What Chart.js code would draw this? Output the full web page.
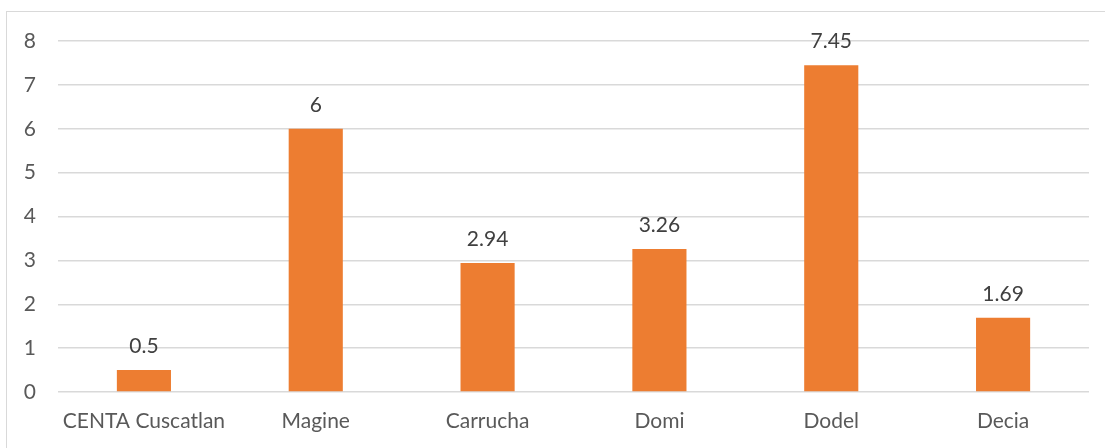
<!DOCTYPE html>
<html>
<head>
<meta charset="utf-8">
<script src="https://cdn.jsdelivr.net/npm/chart.js@4/dist/chart.umd.min.js"></script>
<style>
  html, body { margin: 0; padding: 0; background: #fff; }
  #wrap { position: relative; width: 1105px; height: 448px; }
  #frame { position: absolute; left: 6px; top: 11px; right: 0; bottom: -2px; border-left: 1.5px solid #d9d9d9; border-top: 1.5px solid #d9d9d9; pointer-events: none; }
  canvas { position: absolute; left: 0; top: 0; }
</style>
</head>
<body>
<div id="wrap">
  <canvas id="c" width="1105" height="448"></canvas>
  <div id="frame"></div>
</div>
<script>
const categories = ["CENTA Cuscatlan", "Magine", "Carrucha", "Domi", "Dodel", "Decia"];
const values = [0.5, 6, 2.94, 3.26, 7.45, 1.69];
const valueLabels = ["0.5", "6", "2.94", "3.26", "7.45", "1.69"];
const yTicks = [0, 1, 2, 3, 4, 5, 6, 7, 8];

const FONT = "Lato, 'Open Sans', sans-serif";

const labelPlugin = {
  id: 'valueLabels',
  afterDatasetsDraw(chart) {
    const ctx = chart.ctx;
    const meta = chart.getDatasetMeta(0);
    ctx.save();
    ctx.font = "21px " + FONT;
    ctx.fillStyle = "#404040";
    ctx.textAlign = "center";
    ctx.textBaseline = "alphabetic";
    meta.data.forEach((bar, i) => {
      ctx.fillText(valueLabels[i], bar.x, bar.y - 17);
    });
    ctx.restore();
  }
};

new Chart(document.getElementById('c'), {
  type: 'bar',
  data: {
    labels: categories,
    datasets: [{
      data: values,
      backgroundColor: '#ED7D31',
      borderWidth: 0,
      barPercentage: 0.63,
      categoryPercentage: 0.5
    }]
  },
  options: {
    responsive: false,
    animation: false,
    devicePixelRatio: 1,
    layout: { padding: { left: 0, right: 16, top: 41, bottom: 0 } },
    plugins: { legend: { display: false }, tooltip: { enabled: false } },
    scales: {
      x: {
        grid: { display: false, drawTicks: false },
        border: { display: false },
        ticks: { color: '#595959', font: { family: FONT, size: 21 }, padding: 17, maxRotation: 0, autoSkip: false },
        afterFit(scale) { scale.height = 56; }
      },
      y: {
        min: 0, max: 8,
        afterBuildTicks(scale) { scale.ticks = yTicks.map(v => ({ value: v })); },
        grid: { color: '#d9d9d9', lineWidth: 1.5, drawTicks: false },
        border: { display: false },
        ticks: { color: '#595959', font: { family: FONT, size: 21 }, padding: 22 },
        afterFit(scale) { scale.width = 58; }
      }
    }
  },
  plugins: [labelPlugin]
});
</script>
</body>
</html>
